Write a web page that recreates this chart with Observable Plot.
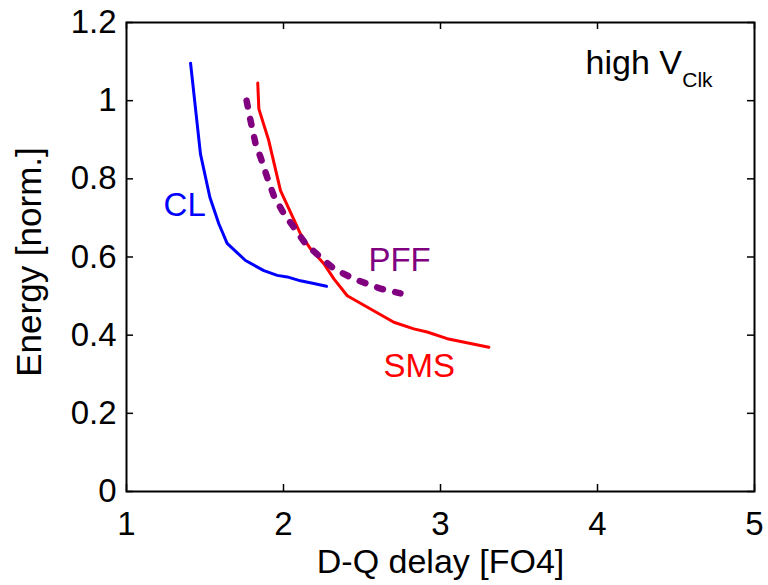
<!DOCTYPE html>
<html>
<head>
<meta charset="utf-8">
<script src="https://cdn.jsdelivr.net/npm/d3@7"></script>
<script src="https://cdn.jsdelivr.net/npm/@observablehq/plot@0.6"></script>
<style>
  html, body { margin: 0; padding: 0; background: #fff; }
  #chart { width: 768px; height: 585px; }
</style>
</head>
<body>
<div id="chart"></div>
<script>
// ---- data ----
const clX  = [1.408, 1.471, 1.531, 1.588, 1.641, 1.758, 1.875, 1.960, 2.024, 2.108, 2.193, 2.274];
const clY  = [1.096, 0.864, 0.753, 0.685, 0.635, 0.591, 0.565, 0.553, 0.549, 0.539, 0.532, 0.525];

const smsX = [1.836, 1.843, 1.906, 1.981, 2.108, 2.172, 2.257, 2.321, 2.406, 2.703, 2.830, 2.915, 3.043, 3.308];
const smsY = [1.045, 0.979, 0.898, 0.770, 0.659, 0.621, 0.583, 0.544, 0.501, 0.433, 0.416, 0.408, 0.391, 0.369];

const pffX = [1.765, 1.790, 1.822, 1.854, 1.896, 1.938, 2.002, 2.066, 2.140, 2.236, 2.321, 2.448, 2.618, 2.745];
const pffY = [1.000, 0.949, 0.890, 0.855, 0.804, 0.757, 0.711, 0.676, 0.634, 0.599, 0.570, 0.544, 0.519, 0.507];

const xTicks = [1, 2, 3, 4, 5];
const yTicks = [0, 0.2, 0.4, 0.6, 0.8, 1, 1.2];

const xTitle = "D-Q delay [FO4]";
const yTitle = "Energy [norm.]";

// curve labels (text, anchor position in data units, colour)
const labelText  = ["CL", "PFF", "SMS"];
const labelX     = [1.236, 2.541, 2.637];
const labelY     = [0.706, 0.563, 0.294];
const labelColor = ["#0000ff", "#800080", "#ff0000"];

const noteMain = "high V";
const noteSub  = "Clk";
const noteMainPos = [3.924, 1.0695];
const noteSubPos  = [4.540, 1.034];

// ---- build tables ----
const zip = (xs, ys) => xs.map((x, i) => ({x, y: ys[i]}));
const cl = zip(clX, clY), sms = zip(smsX, smsY), pff = zip(pffX, pffY);
const labels = labelText.map((t, i) => ({t, x: labelX[i], y: labelY[i], c: labelColor[i]}));

const W = 768, H = 585;
const mL = 126, mR = 14, mT = 22, mB = 94;
const frameW = W - mL - mR, frameH = H - mT - mB;
const tickLen = 7;
const font = "'Liberation Sans', Arial, Helvetica, sans-serif";

const chart = Plot.plot({
  width: W, height: H,
  marginLeft: mL, marginRight: mR, marginTop: mT, marginBottom: mB,
  style: {fontFamily: font, color: "#000", background: "#fff", overflow: "visible"},
  x: {domain: [1, 5]},
  y: {domain: [0, 1.2]},
  marks: [
    // inward ticks on all four sides
    Plot.tickX(xTicks, {x: d => d, insetTop: frameH - tickLen, stroke: "#000", strokeWidth: 1.5}),
    Plot.tickX(xTicks, {x: d => d, insetBottom: frameH - tickLen, stroke: "#000", strokeWidth: 1.5}),
    Plot.tickY(yTicks, {y: d => d, insetRight: frameW - tickLen, stroke: "#000", strokeWidth: 1.5}),
    Plot.tickY(yTicks, {y: d => d, insetLeft: frameW - tickLen, stroke: "#000", strokeWidth: 1.5}),
    // tick labels
    Plot.axisX(xTicks, {anchor: "bottom", tickSize: 0, tickPadding: 20, fontSize: 33,
      tickFormat: d => String(d), label: null}),
    Plot.axisY(yTicks, {anchor: "left", tickSize: 0, tickPadding: 10, fontSize: 33,
      tickFormat: d => String(d), label: null}),
    // axis titles
    Plot.text([xTitle], {text: d => d, frameAnchor: "bottom", textAnchor: "middle", dy: 81,
      lineAnchor: "bottom", fontSize: 34, fill: "#000"}),
    Plot.text([yTitle], {text: d => d, frameAnchor: "left", textAnchor: "middle",
      dx: 40 - mL, dy: 5, rotate: -90, lineAnchor: "bottom", fontSize: 35, fill: "#000"}),
    // curves
    Plot.line(cl, {x: "x", y: "y", stroke: "#0000ff", strokeWidth: 3}),
    Plot.line(sms, {x: "x", y: "y", stroke: "#ff0000", strokeWidth: 3}),
    Plot.line(pff, {x: "x", y: "y", stroke: "#800080", strokeWidth: 6.5,
      strokeDasharray: "6,12.6", strokeLinecap: "round"}),
    // curve labels
    Plot.text(labels, {x: "x", y: "y", text: "t", fill: "c", textAnchor: "start",
      lineAnchor: "bottom", fontSize: 33}),
    // note
    Plot.text([noteMain], {x: () => noteMainPos[0], y: () => noteMainPos[1], text: d => d,
      textAnchor: "start", lineAnchor: "bottom", fontSize: 34, fill: "#000"}),
    Plot.text([noteSub], {x: () => noteSubPos[0], y: () => noteSubPos[1], text: d => d,
      textAnchor: "start", lineAnchor: "bottom", fontSize: 21, fill: "#000"}),
    Plot.frame({stroke: "#000", strokeWidth: 2})
  ]
});
document.getElementById("chart").appendChild(chart);
</script>
</body>
</html>
